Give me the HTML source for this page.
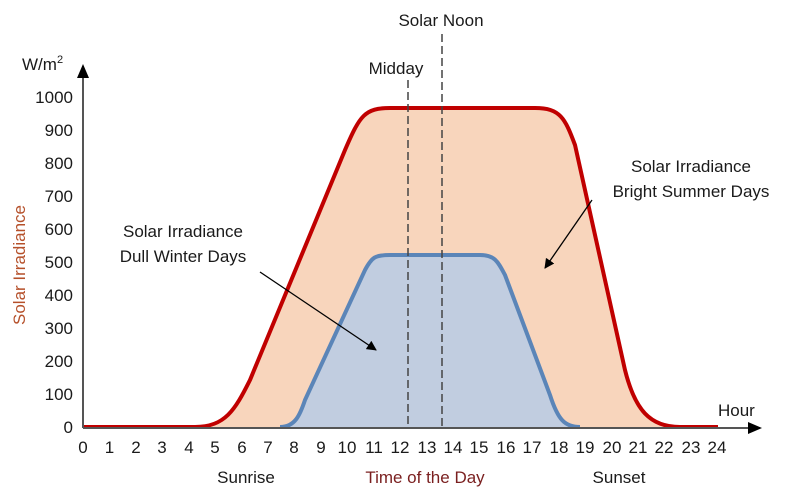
<!DOCTYPE html>
<html><head><style>body{margin:0;background:#fff}svg{display:block}text{font-family:"Liberation Sans",Arial,sans-serif;fill:#1a1a1a}</style></head>
<body>
<svg width="800" height="502" viewBox="0 0 800 502" xmlns="http://www.w3.org/2000/svg">
<defs>
<marker id="ah" markerWidth="10" markerHeight="10" refX="9" refY="5" orient="auto" markerUnits="userSpaceOnUse"><path d="M0,0 L10,5 L0,10 z" fill="#000"/></marker>
<marker id="ah2" markerWidth="14" markerHeight="14" refX="12" refY="7" orient="auto" markerUnits="userSpaceOnUse"><path d="M0,1 L14,7 L0,13 z" fill="#000"/></marker>
</defs>
<path d="M83,427 L195,427 C225,427 235,410 250,380 L345,150 C360,115 365,108 390,108 L535,108 C560,108 565,118 575,145 L625,370 C635,410 650,427 680,427 L718,427 Z" fill="#f8d5bc"/>
<path d="M280,427 C295,427 300,415 305,400 L365,270 C372,257 375,255 390,255 L480,255 C495,255 498,262 505,275 L550,395 C558,420 565,427 580,427 Z" fill="#c1cde0"/>
<path d="M280,427 C295,427 300,415 305,400 L365,270 C372,257 375,255 390,255 L480,255 C495,255 498,262 505,275 L550,395 C558,420 565,427 580,427" fill="none" stroke="#5b85b8" stroke-width="4"/>
<path d="M83,427 L195,427 C225,427 235,410 250,380 L345,150 C360,115 365,108 390,108 L535,108 C560,108 565,118 575,145 L625,370 C635,410 650,427 680,427 L718,427" fill="none" stroke="#c00000" stroke-width="4"/>
<line x1="408" y1="80" x2="408" y2="427" stroke="#444" stroke-width="1.5" stroke-dasharray="8,4"/>
<line x1="442" y1="34" x2="442" y2="427" stroke="#444" stroke-width="1.5" stroke-dasharray="8,4"/>
<line x1="83" y1="428" x2="83" y2="66" stroke="#555" stroke-width="2" marker-end="url(#ah2)"/>
<line x1="83" y1="428" x2="760" y2="428" stroke="#555" stroke-width="2" marker-end="url(#ah2)"/>
<line x1="260" y1="272" x2="376" y2="350" stroke="#000" stroke-width="1.3" marker-end="url(#ah)"/>
<line x1="592" y1="200" x2="545" y2="268" stroke="#000" stroke-width="1.3" marker-end="url(#ah)"/>
<g font-size="17" text-anchor="end">
<text x="73" y="103">1000</text><text x="73" y="136">900</text><text x="73" y="169">800</text><text x="73" y="202">700</text><text x="73" y="235">600</text><text x="73" y="268">500</text><text x="73" y="301">400</text><text x="73" y="334">300</text><text x="73" y="367">200</text><text x="73" y="400">100</text><text x="73" y="433">0</text>
</g>
<g font-size="17" text-anchor="middle">
<text x="83" y="453">0</text><text x="109.5" y="453">1</text><text x="136" y="453">2</text><text x="162" y="453">3</text><text x="189" y="453">4</text><text x="215" y="453">5</text><text x="242" y="453">6</text><text x="268" y="453">7</text><text x="294" y="453">8</text><text x="321" y="453">9</text><text x="347" y="453">10</text><text x="374" y="453">11</text><text x="400" y="453">12</text><text x="427" y="453">13</text><text x="453" y="453">14</text><text x="479" y="453">15</text><text x="506" y="453">16</text><text x="532" y="453">17</text><text x="559" y="453">18</text><text x="585" y="453">19</text><text x="612" y="453">20</text><text x="638" y="453">21</text><text x="664" y="453">22</text><text x="691" y="453">23</text><text x="717" y="453">24</text>
<text x="246" y="483">Sunrise</text>
<text x="425" y="483" fill="#7a1f1f" style="fill:#7a1f1f">Time of the Day</text>
<text x="619" y="483">Sunset</text>
<text x="396" y="74">Midday</text>
<text x="441" y="26">Solar Noon</text>
<text x="183" y="237">Solar Irradiance</text>
<text x="183" y="262">Dull Winter Days</text>
<text x="691" y="172">Solar Irradiance</text>
<text x="691" y="197">Bright Summer Days</text>
</g>
<text x="718" y="416" font-size="17">Hour</text>
<text x="22" y="70" font-size="17">W/m<tspan font-size="11" dy="-7">2</tspan></text>
<text transform="translate(25,265) rotate(-90)" font-size="17" text-anchor="middle" style="fill:#b5502a">Solar Irradiance</text>
</svg>
</body></html>
